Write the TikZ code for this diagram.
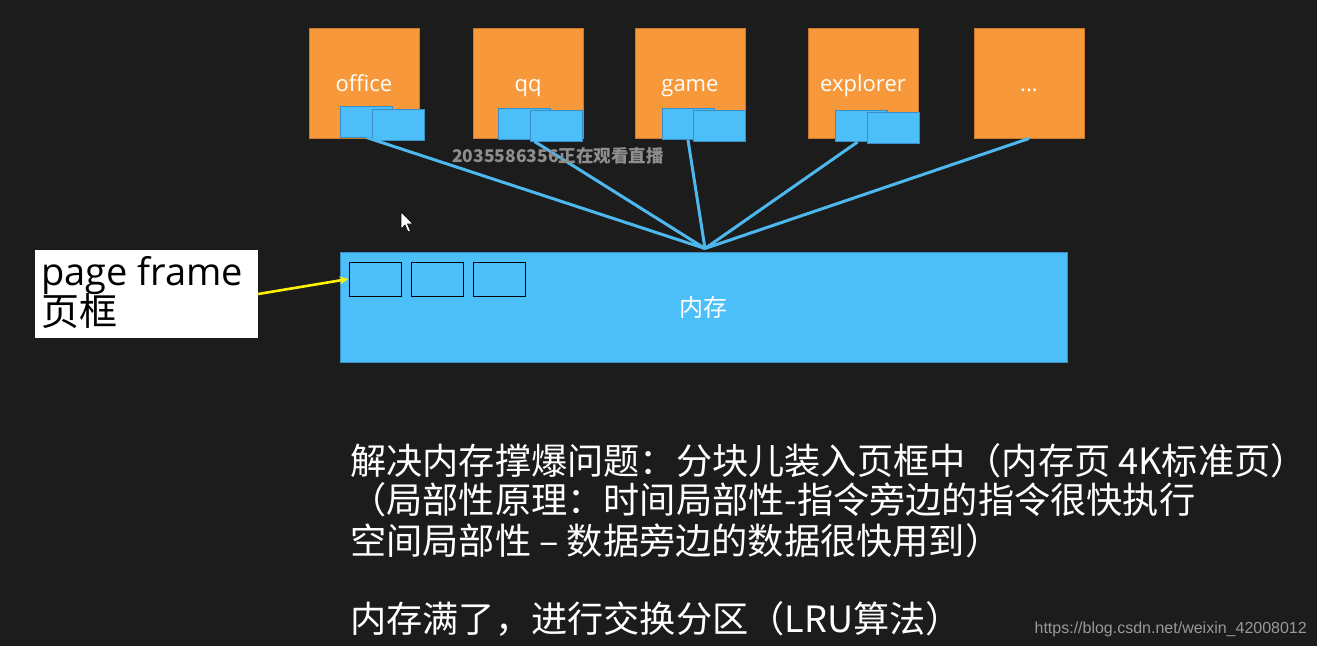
\documentclass[tikz,border=0pt]{standalone}
\usepackage{fontspec}
\usetikzlibrary{calc,arrows.meta}
\setmainfont{Open Sans}
\newfontfamily\cjk{Noto Sans CJK SC}
\newfontfamily\narrowfont{Liberation Sans}
\definecolor{bgdark}{HTML}{1C1C1C}
\definecolor{procorange}{HTML}{F7983A}
\definecolor{procborder}{HTML}{C9782C}
\definecolor{memblue}{HTML}{4CBFF9}
\definecolor{memborder}{HTML}{3A8DC5}
\definecolor{linkblue}{HTML}{4DB8EE}
\definecolor{wmgray}{HTML}{8E8E8E}
\tikzset{
  proc/.style={draw=procborder, fill=procorange, line width=1pt, minimum width=110pt, minimum height=110pt,
    inner sep=0pt, text=white, font=\fontsize{22}{26}\selectfont, text height=19pt, text depth=2pt},
  pagebox/.style={draw=memborder, fill=memblue, line width=1pt, minimum width=52pt, minimum height=31pt, inner sep=0pt},
  framebox/.style={draw=black, line width=1pt, minimum width=52pt, minimum height=34pt, inner sep=0pt},
  memory/.style={draw=memborder, fill=memblue, line width=1pt, minimum width=727pt, minimum height=110pt, inner sep=0pt,
    text=white, font=\cjk\fontsize{24}{28}\selectfont},
  link/.style={draw=linkblue, line width=3pt},
  bodytext/.style={anchor=base west, inner sep=0pt, text=white, font=\cjk\fontsize{36.2}{40}\selectfont},
}
\begin{document}
\begin{tikzpicture}[x=1pt,y=-1pt]
\fill[bgdark] (0,0) rectangle (1317,646);
\useasboundingbox (0,0) rectangle (1317,646);

% process boxes
\node[proc] (office) at (364,83) {office};
\node[proc] (qq) at (528,83) {qq};
\node[proc] (game) at (690,83) {game};
\node[proc] (explorer) at (863,83) {explorer};
\node[proc] (dots) at (1029,83) {...};

% page boxes
\node[pagebox] (o1) at (366.5,121.5) {};
\node[pagebox] (o2) at (398,125) {};
\node[pagebox] (q1) at (524.5,124) {};
\node[pagebox] (q2) at (556,125.5) {};
\node[pagebox] (g1) at (688,124) {};
\node[pagebox] (g2) at (719.5,125.5) {};
\node[pagebox] (e1) at (861.5,126) {};
\node[pagebox] (e2) at (893,127.5) {};

% memory
\node[memory] (mem) at (703.5,307) {内存};
\node[framebox] (f1) at (375,279) {};
\node[framebox] (f2) at (437,279) {};
\node[framebox] (f3) at (499,279) {};

% connectors
\coordinate (hub) at ($(mem.north)+(1.5,-3)$);
\draw[link] (o1.south) -- (hub);
\draw[link] ([xshift=5pt]q2.south west) -- (hub);
\draw[link] (g1.south) -- (hub);
\draw[link] ([xshift=-4pt]e1.south) -- (hub);
\draw[link] (dots.south) -- (hub);

% watermark
\node[text=wmgray, font=\cjk\bfseries\fontsize{17.5}{20}\selectfont, inner sep=0pt] (wm) at (558,156) {2035586356正在观看直播};

% label box
\node[fill=white, minimum width=223pt, minimum height=88pt, inner sep=0pt] (lbl) at (146.5,294) {};
\node[anchor=base west, inner sep=0pt, font=\fontsize{38}{42}\selectfont, text=black] (lbl1) at (41,285) {page frame};
\node[anchor=base west, inner sep=0pt, font=\cjk\fontsize{38}{42}\selectfont, text=black] (lbl2) at (41,325) {页框};
\draw[yellow, line width=2.6pt, -{Stealth[length=9pt,width=8pt]}] (lbl.east) -- (f1.west);

% mouse cursor
\draw[fill=white, draw=black, line width=0.6pt] (401,212) -- (401,229) -- (405,225) -- (408,232) -- (410.5,231) -- (407.5,224) -- (413,224) -- cycle;

% bottom text
\node[bodytext] (t1) at (350,474) {解决内存撑爆问题：分块儿装入页框中（内存页 4K标准页）};
\node[bodytext] (t2) at (350,513) {（局部性原理：时间局部性-指令旁边的指令很快执行};
\node[bodytext] (t3) at (350,554) {空间局部性 – 数据旁边的数据很快用到）};
\node[bodytext] (t4) at (350,632) {内存满了，进行交换分区（LRU算法）};

% csdn watermark
\node[anchor=base east, inner sep=0pt, text=wmgray!90!white, font=\narrowfont\fontsize{16}{18}\selectfont] (csdn) at (1307,633) {https://blog.csdn.net/weixin\_42008012};
\end{tikzpicture}
\end{document}
